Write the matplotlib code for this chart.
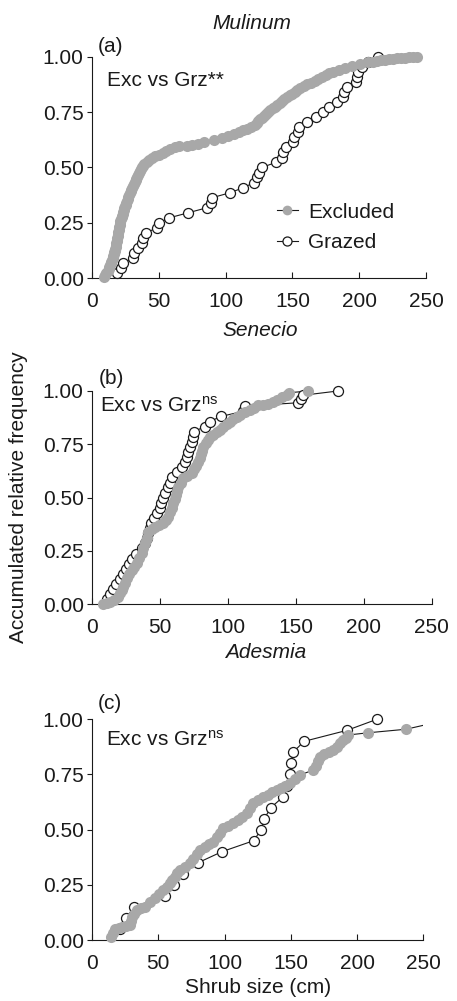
import matplotlib
matplotlib.use('Agg')
import matplotlib.pyplot as plt
from matplotlib.lines import Line2D

plt.rcParams['font.family'] = ['Liberation Sans', 'DejaVu Sans']
plt.rcParams['mathtext.fontset'] = 'custom'
plt.rcParams['mathtext.rm'] = 'Liberation Sans'
plt.rcParams['mathtext.it'] = 'Liberation Sans:italic'

# Mulinum: shrub size (cm) and accumulated relative frequency
mulExcSize = [9.1, 10.0, 10.8, 11.7, 12.4, 12.9, 13.4, 13.9, 14.4, 14.9,
              15.4, 15.9, 16.2, 16.6, 16.9, 17.2, 17.6, 17.9, 18.2, 18.5,
              18.7, 18.9, 19.2, 19.4, 19.6, 19.9, 20.1, 20.3, 20.6, 20.8,
              21.2, 21.7, 22.1, 22.5, 22.9, 23.3, 23.7, 24.1, 24.5, 25.1,
              25.6, 26.2, 26.7, 27.3, 27.9, 28.4, 29.0, 29.5, 30.1, 30.7,
              31.3, 31.9, 32.6, 33.2, 33.8, 34.5, 35.2, 36.0, 36.8, 37.6,
              38.4, 39.2, 40.9, 43.0, 45.1, 47.2, 50.0, 52.8, 55.6, 58.7,
              62.1, 65.0, 71.0, 75.2, 79.7, 84.2, 91.0, 97.5, 102.0, 106.5,
              110.4, 113.2, 116.0, 118.8, 121.7, 123.2, 124.6, 126.0, 127.4, 128.8,
              130.2, 131.8, 133.5, 135.3, 137.0, 138.7, 140.4, 142.2, 144.0, 145.9,
              147.9, 149.9, 151.8, 153.8, 155.8, 158.5, 161.3, 164.0, 166.8, 169.5,
              172.2, 174.9, 177.6, 180.4, 185.0, 189.7, 194.7, 200.5, 206.6, 210.0,
              213.0, 216.0, 219.0, 222.0, 225.0, 228.0, 231.0, 234.0, 237.0, 240.0, 243.0]
mulExcFreq = [.008, .017, .025, .033, .042, .050, .058, .067, .075, .083,
              .092, .100, .108, .117, .125, .133, .142, .150, .158, .167,
              .175, .183, .192, .200, .208, .217, .225, .233, .242, .250,
              .258, .267, .275, .283, .292, .300, .308, .317, .325, .333,
              .342, .350, .358, .367, .375, .383, .392, .400, .408, .417,
              .425, .433, .442, .450, .458, .467, .475, .483, .492, .500,
              .508, .517, .525, .533, .542, .550, .558, .567, .575, .583,
              .592, .595, .597, .600, .608, .617, .625, .633, .642, .650,
              .658, .667, .675, .683, .692, .700, .708, .717, .725, .733,
              .742, .750, .758, .767, .775, .783, .792, .800, .808, .817,
              .825, .833, .842, .850, .858, .867, .875, .883, .892, .900,
              .908, .917, .925, .933, .942, .950, .958, .967, .975, .977,
              .980, .983, .986, .988, .990, .992, .994, .996, .997, .999, 1.0]
mulGrzSize = [18.9, 21.9, 23.5, 30.9, 31.7, 34.7, 37.2, 38.4, 40.2, 48.4,
              50.4, 57.9, 71.6, 85.8, 89.1, 90.1, 103.3, 113.3, 121.3, 123.3,
              125.2, 127.0, 137.7, 142.0, 142.7, 145.2, 150.7, 150.9, 154.2, 155.0,
              161.1, 167.7, 173.1, 177.6, 183.1, 188.1, 188.6, 190.6, 197.6, 198.0,
              199.0, 202.0, 206.3, 213.8]
mulGrzFreq = [.023, .045, .068, .091, .114, .136, .159, .182, .205, .227,
              .250, .273, .295, .318, .341, .364, .386, .409, .432, .455,
              .477, .500, .523, .545, .568, .591, .614, .636, .659, .682,
              .705, .727, .750, .773, .795, .818, .841, .864, .886, .909,
              .932, .955, .977, 1.0]

# Senecio
senExcSize = [8.3, 11.0, 13.3, 16.0, 19.4, 20.6, 21.8, 23.0, 24.2, 25.5,
              27.3, 29.2, 31.0, 32.9, 34.7, 36.6, 37.8, 39.0, 40.2, 41.5,
              43.9, 46.4, 49.5, 52.5, 54.4, 56.2, 57.4, 58.7, 59.9, 60.8,
              61.7, 62.7, 63.6, 65.4, 67.3, 70.3, 73.4, 75.0, 76.6, 78.3,
              79.2, 80.1, 81.0, 82.0, 83.6, 85.2, 86.9, 89.4, 91.8, 94.3,
              96.7, 99.2, 101.6, 104.1, 106.5, 109.0, 112.6, 116.3, 119.4, 122.5,
              126.0, 129.8, 133.0, 136.0, 139.7, 143.4, 145.3, 159.3]
senExcFreq = [.000, .006, .012, .022, .036, .052, .068, .083, .102, .122,
              .141, .161, .176, .192, .215, .239, .262, .286, .312, .340,
              .352, .364, .372, .380, .395, .411, .431, .452, .473, .493,
              .512, .532, .551, .571, .591, .603, .614, .632, .650, .669,
              .687, .704, .721, .739, .755, .770, .786, .796, .806, .817,
              .830, .843, .856, .867, .877, .888, .900, .911, .922, .934,
              .936, .939, .948, .958, .970, .981, .992, 1.0]
senGrzSize = [11.0, 13.5, 15.6, 18.0, 20.8, 22.7, 25.0, 27.0, 29.5, 32.5,
              36.5, 39.0, 40.5, 41.5, 42.5, 43.5, 45.5, 48.0, 49.9, 51.0,
              52.3, 53.8, 56.0, 57.3, 58.6, 62.3, 66.0, 68.4, 69.7, 70.9,
              72.2, 73.4, 74.6, 75.2, 82.9, 86.6, 95.1, 111.5, 112.7, 152.0,
              154.0, 155.3, 181.0]
senGrzFreq = [.024, .048, .071, .095, .119, .143, .167, .190, .214, .238,
              .262, .286, .310, .333, .357, .381, .405, .429, .452, .476,
              .500, .524, .548, .571, .595, .619, .643, .667, .690, .714,
              .738, .762, .786, .810, .833, .857, .881, .905, .929, .945,
              .962, .980, 1.0]

# Adesmia
adeExcSize = [14.0, 15.5, 17.4, 20.0, 23.0, 26.0, 28.7, 29.5, 30.0, 31.8,
              33.7, 36.8, 40.0, 43.7, 47.5, 50.5, 53.5, 56.4, 58.5, 60.5,
              62.6, 64.5, 66.4, 70.2, 74.0, 76.5, 79.0, 81.5, 84.9, 88.2,
              91.6, 94.1, 96.6, 99.1, 102.9, 106.7, 110.0, 113.4, 116.8, 119.3,
              121.8, 125.5, 129.3, 132.7, 136.0, 139.4, 142.7, 146.0, 149.4, 153.2,
              157.0, 167.0, 168.7, 170.4, 172.1, 175.4, 178.8, 182.1, 184.6, 187.2,
              189.7, 191.5, 193.4, 208.5, 237.0, 270.0]
adeExcFreq = [.012, .030, .050, .055, .060, .063, .068, .087, .106, .120,
              .136, .144, .151, .170, .189, .207, .225, .242, .257, .272,
              .287, .302, .317, .332, .347, .367, .388, .408, .420, .433,
              .445, .465, .486, .506, .517, .529, .544, .559, .574, .596,
              .619, .634, .649, .659, .669, .680, .690, .700, .710, .729,
              .748, .770, .790, .810, .831, .841, .851, .861, .876, .891,
              .906, .917, .929, .939, .955, 1.0]
adeGrzSize = [21.0, 25.5, 32.0, 55.0, 62.0, 68.5, 80.0, 98.0, 122.0, 127.6,
              130.0, 135.0, 144.5, 147.0, 149.5, 150.0, 151.6, 160.0, 192.4, 215.0]
adeGrzFreq = [.05, .10, .15, .20, .25, .30, .35, .40, .45, .50,
              .55, .60, .65, .70, .75, .80, .85, .90, .95, 1.0]

GRAY = '#a8a8a8'
INK = '#1a1a1a'
FONT = 15
W, H = 457, 1001


def figPos(x, y):
    # pixel position (from top-left) to figure fraction
    return x / W, 1 - y / H


def drawPanel(rect, excSize, excFreq, grzSize, grzFreq):
    ax = fig.add_axes(rect)
    ax.plot(grzSize, grzFreq, color=INK, lw=0.8, zorder=2)
    ax.plot(excSize, excFreq, color=INK, lw=0.8, zorder=2.5)
    ax.plot(grzSize, grzFreq, 'o', ls='none', ms=7.2, mfc='white', mec=INK,
            mew=0.9, clip_on=False, zorder=3)
    # points past the axis end are only reached by the connecting line
    shown = [(s, f) for s, f in zip(excSize, excFreq) if s <= 250]
    ax.plot([s for s, f in shown], [f for s, f in shown], 'o', ls='none',
            ms=8, mfc=GRAY, mec=GRAY, mew=0, clip_on=False, zorder=5)

    ax.set_xlim(0, 250)
    ax.set_ylim(0, 1)
    ax.set_xticks([0, 50, 100, 150, 200, 250])
    ax.set_yticks([0, 0.25, 0.5, 0.75, 1.0])
    ax.set_yticklabels(['0.00', '0.25', '0.50', '0.75', '1.00'])
    for side in ['top', 'right']:
        ax.spines[side].set_visible(False)
    for side in ['left', 'bottom']:
        ax.spines[side].set_linewidth(0.8)
        ax.spines[side].set_color(INK)
    ax.tick_params(axis='x', direction='in', length=4, width=0.8, pad=10,
                   labelsize=FONT, colors=INK)
    ax.tick_params(axis='y', direction='out', length=3.5, width=0.8, pad=2.5,
                   labelsize=FONT, colors=INK)
    return ax


fig = plt.figure(figsize=(W / 100, H / 100), dpi=100)

axA = drawPanel([92 / W, (H - 278.3) / H, 334 / W, 221.6 / H],
                mulExcSize, mulExcFreq, mulGrzSize, mulGrzFreq)
axB = drawPanel([92 / W, (H - 604.3) / H, 339.6 / W, 213.3 / H],
                senExcSize, senExcFreq, senGrzSize, senGrzFreq)
axC = drawPanel([92 / W, (H - 940) / H, 331.3 / W, 220.7 / H],
                adeExcSize, adeExcFreq, adeGrzSize, adeGrzFreq)

# species names and panel letters
fig.text(*figPos(252, 29), 'Mulinum', style='italic', ha='center', va='baseline', fontsize=FONT, color=INK)
fig.text(*figPos(260, 336), 'Senecio', style='italic', ha='center', va='baseline', fontsize=FONT, color=INK)
fig.text(*figPos(266, 658), 'Adesmia', style='italic', ha='center', va='baseline', fontsize=FONT, color=INK)
fig.text(*figPos(258, 993), 'Shrub size (cm)', ha='center', va='baseline', fontsize=FONT, color=INK)

fig.text(*figPos(98, 52), '(a)', ha='left', va='baseline', fontsize=FONT, color=INK)
fig.text(*figPos(99, 384), '(b)', ha='left', va='baseline', fontsize=FONT, color=INK)
fig.text(*figPos(98, 709), '(c)', ha='left', va='baseline', fontsize=FONT, color=INK)

fig.text(*figPos(107, 86), 'Exc vs Grz**', ha='left', va='baseline', fontsize=FONT, color=INK)
fig.text(*figPos(100, 411.7), 'Exc vs Grz$^{\\mathrm{ns}}$', ha='left', va='baseline', fontsize=FONT, color=INK)
fig.text(*figPos(106, 746), 'Exc vs Grz$^{\\mathrm{ns}}$', ha='left', va='baseline', fontsize=FONT, color=INK)

fig.text(*figPos(19, 497), 'Accumulated relative frequency', rotation=90,
         ha='center', va='center', fontsize=FONT, color=INK)

# legend in the first panel
excHandle = Line2D([], [], color=INK, lw=0.8, marker='o', ms=7, mfc=GRAY, mec=GRAY, mew=0)
grzHandle = Line2D([], [], color=INK, lw=0.8, marker='o', ms=6.5, mfc='white', mec=INK, mew=0.9)
axA.legend([excHandle, grzHandle], ['Excluded', 'Grazed'], loc='upper left',
           bbox_to_anchor=figPos(277, 202.5), bbox_transform=fig.transFigure,
           frameon=False, fontsize=FONT, handlelength=1.0, handletextpad=0.5,
           borderpad=0, borderaxespad=0, labelspacing=0.55, numpoints=1,
           labelcolor=INK)

fig.savefig('out.png', dpi=100)
